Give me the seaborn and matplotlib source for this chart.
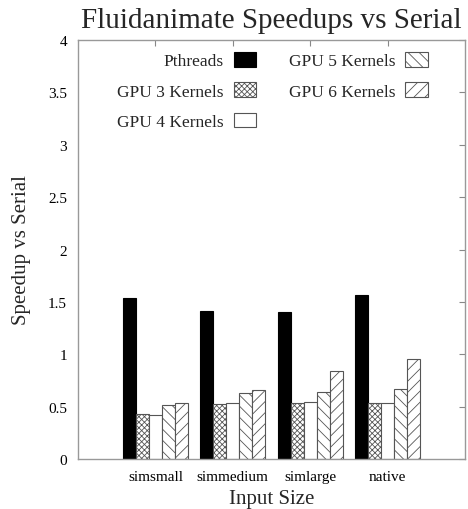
import matplotlib
matplotlib.use("Agg")
import matplotlib.pyplot as plt
import seaborn as sns
import pandas as pd

# Input sizes and measured speedups over the serial version
sizes = ["simsmall", "simmedium", "simlarge", "native"]
pthreads = [1.54, 1.41, 1.40, 1.57]
gpu3 = [0.43, 0.525, 0.53, 0.53]
gpu4 = [0.42, 0.535, 0.545, 0.53]
gpu5 = [0.515, 0.63, 0.64, 0.67]
gpu6 = [0.535, 0.66, 0.84, 0.95]
series_names = ["Pthreads", "GPU 3 Kernels", "GPU 4 Kernels", "GPU 5 Kernels", "GPU 6 Kernels"]
y_ticks = [0, 0.5, 1, 1.5, 2, 2.5, 3, 3.5, 4]
y_tick_labels = ["0", "0.5", "1", "1.5", "2", "2.5", "3", "3.5", "4"]

rows = []
for name, vals in zip(series_names, [pthreads, gpu3, gpu4, gpu5, gpu6]):
    for s, v in zip(sizes, vals):
        rows.append({"size": s, "series": name, "speedup": v})
df = pd.DataFrame(rows)

sns.set_theme(style="white")
plt.rcParams["font.family"] = ["Liberation Serif", "DejaVu Serif"]
plt.rcParams["hatch.color"] = "#808080"
plt.rcParams["hatch.linewidth"] = 0.6

fig = plt.figure(figsize=(4.68, 5.10), dpi=100)
ax = fig.add_axes([78 / 468, 1 - 460 / 510, (465 - 78) / 468, (460 - 41) / 510])

fills = ["black", "white", "white", "white", "white"]
hatches = [None, "xxxxxx", None, "\\\\\\", "///"]
sns.barplot(data=df, x="size", y="speedup", hue="series", order=sizes,
            hue_order=series_names, width=0.84, ax=ax, legend=False,
            palette=fills, saturation=1)

handles = []
for cont, fc, h, name in zip(ax.containers, fills, hatches, series_names):
    ec = "#555555" if fc == "white" else "black"
    for p in cont.patches:
        p.set_facecolor(fc)
        p.set_edgecolor(ec)
        p.set_linewidth(0.8)
        if h:
            p.set_hatch(h)
    handles.append(plt.Rectangle((0, 0), 1, 1, facecolor=fc, hatch=h,
                                 edgecolor=ec, linewidth=0.8, label=name))

ax.set_xlim(-1, 4)
ax.set_ylim(0, 4)
ax.set_yticks(y_ticks)
ax.set_yticklabels(y_tick_labels)
ax.tick_params(axis="both", direction="in", length=4, width=0.8, color="#888888",
               labelsize=11, labelcolor="black", top=True, right=True,
               labeltop=False, labelright=False, pad=8)
ax.tick_params(axis="x", pad=8)
for sp in ax.spines.values():
    sp.set_color("#999999")
    sp.set_linewidth(1.0)

ax.set_xlabel("Input Size", fontsize=15, labelpad=4)
ax.set_ylabel("Speedup vs Serial", fontsize=15, labelpad=12)
fig.text(271 / 468, 0.985, "Fluidanimate Speedups vs Serial", ha="center", va="top",
         fontsize=21)

leg = ax.legend(handles=handles, ncol=2, loc="upper right", bbox_to_anchor=(0.935, 1.0),
                frameon=False, markerfirst=False, fontsize=12.5, handlelength=1.3,
                handleheight=0.9, labelspacing=0.75, columnspacing=1.9,
                handletextpad=0.55, borderaxespad=0.3)
for t in leg.get_texts():
    t.set_ha("right")

fig.savefig("out.png", dpi=100)
